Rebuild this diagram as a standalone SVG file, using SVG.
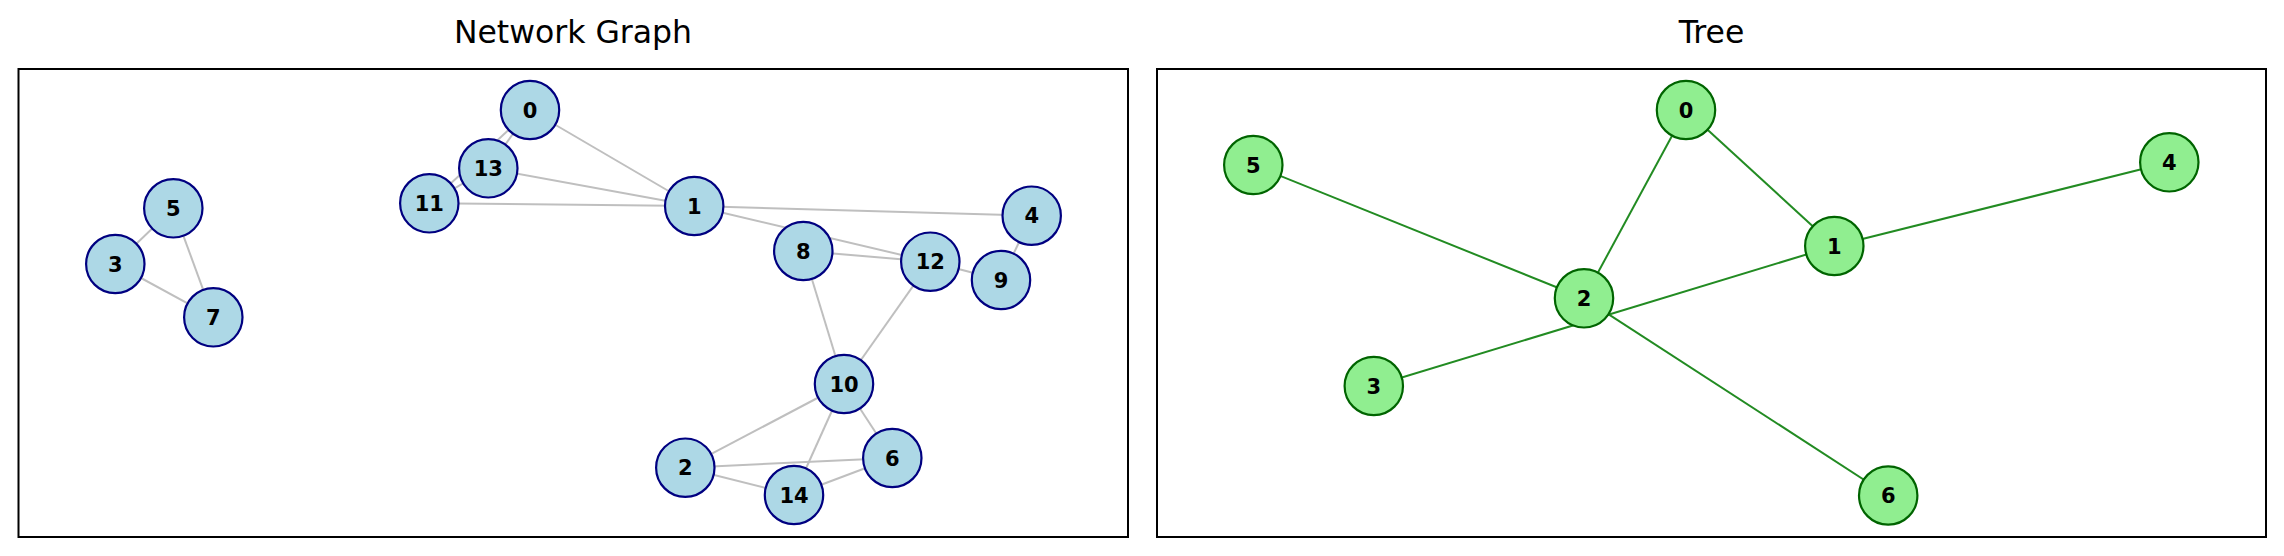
<svg xmlns="http://www.w3.org/2000/svg" width="2284" height="556" viewBox="0 0 2284 556">
<style>
.title{font-family:"DejaVu Sans",sans-serif;font-size:31.5px;fill:#000;text-anchor:middle}
.frame{fill:none;stroke:#000;stroke-width:2}
.ge{stroke:#bfbfbf;stroke-width:2;fill:none}
.te{stroke:#228b22;stroke-width:2;fill:none}
.bn circle{fill:#add8e6;stroke:#000080;stroke-width:2.2}
.gn circle{fill:#90ee90;stroke:#006400;stroke-width:2.2}
.lbl{font-family:"DejaVu Sans",sans-serif;font-weight:bold;font-size:21px;fill:#000;text-anchor:middle}
</style>
<rect width="2284" height="556" fill="#fff"/>
<text class="title" x="573" y="42.5">Network Graph</text>
<text class="title" x="1711.5" y="42.5">Tree</text>
<rect class="frame" x="18.5" y="69" width="1109.5" height="468"/>
<rect class="frame" x="1157" y="69" width="1109" height="468"/>
<g id="connectors">
<g id="graph-edges" class="ge">
<line x1="173.3" y1="208.3" x2="115.3" y2="264"/>
<line x1="173.3" y1="208.3" x2="213.3" y2="317.3"/>
<line x1="115.3" y1="264" x2="213.3" y2="317.3"/>
<line x1="530" y1="110" x2="488.3" y2="168.3"/>
<line x1="530" y1="110" x2="429.3" y2="203.3"/>
<line x1="488.3" y1="168.3" x2="429.3" y2="203.3"/>
<line x1="530" y1="110" x2="694.2" y2="206"/>
<line x1="488.3" y1="168.3" x2="694.2" y2="206"/>
<line x1="429.3" y1="203.3" x2="694.2" y2="206"/>
<line x1="694.2" y1="206" x2="1031.7" y2="215.7"/>
<line x1="694.2" y1="206" x2="930.3" y2="261.7"/>
<line x1="803.3" y1="251" x2="930.3" y2="261.7"/>
<line x1="930.3" y1="261.7" x2="1001" y2="280"/>
<line x1="1031.7" y1="215.7" x2="1001" y2="280"/>
<line x1="803.3" y1="251" x2="844" y2="384"/>
<line x1="930.3" y1="261.7" x2="844" y2="384"/>
<line x1="844" y1="384" x2="685.3" y2="467.7"/>
<line x1="844" y1="384" x2="794" y2="495"/>
<line x1="844" y1="384" x2="892.3" y2="458"/>
<line x1="685.3" y1="467.7" x2="892.3" y2="458"/>
<line x1="685.3" y1="467.7" x2="794" y2="495"/>
<line x1="794" y1="495" x2="892.3" y2="458"/>
</g>
<g id="tree-edges" class="te">
<line x1="1253.3" y1="165" x2="1584" y2="298.3"/>
<line x1="1686" y1="110" x2="1584" y2="298.3"/>
<line x1="1686" y1="110" x2="1834.3" y2="246"/>
<line x1="1834.3" y1="246" x2="2169.3" y2="162.3"/>
<line x1="1373.8" y1="386" x2="1834.3" y2="246"/>
<line x1="1584" y1="298.3" x2="1888.2" y2="495.5"/>
</g>
</g>
<g id="g-node-5" class="bn"><circle cx="173.3" cy="208.3" r="29.2"/><text class="lbl" x="173.3" y="215.9">5</text></g>
<g id="g-node-3" class="bn"><circle cx="115.3" cy="264" r="29.2"/><text class="lbl" x="115.3" y="271.6">3</text></g>
<g id="g-node-7" class="bn"><circle cx="213.3" cy="317.3" r="29.2"/><text class="lbl" x="213.3" y="324.9">7</text></g>
<g id="g-node-0" class="bn"><circle cx="530" cy="110" r="29.2"/><text class="lbl" x="530" y="117.6">0</text></g>
<g id="g-node-13" class="bn"><circle cx="488.3" cy="168.3" r="29.2"/><text class="lbl" x="488.3" y="175.9">13</text></g>
<g id="g-node-11" class="bn"><circle cx="429.3" cy="203.3" r="29.2"/><text class="lbl" x="429.3" y="210.9">11</text></g>
<g id="g-node-1" class="bn"><circle cx="694.2" cy="206" r="29.2"/><text class="lbl" x="694.2" y="213.6">1</text></g>
<g id="g-node-4" class="bn"><circle cx="1031.7" cy="215.7" r="29.2"/><text class="lbl" x="1031.7" y="223.3">4</text></g>
<g id="g-node-8" class="bn"><circle cx="803.3" cy="251" r="29.2"/><text class="lbl" x="803.3" y="258.6">8</text></g>
<g id="g-node-12" class="bn"><circle cx="930.3" cy="261.7" r="29.2"/><text class="lbl" x="930.3" y="269.3">12</text></g>
<g id="g-node-9" class="bn"><circle cx="1001" cy="280" r="29.2"/><text class="lbl" x="1001" y="287.6">9</text></g>
<g id="g-node-10" class="bn"><circle cx="844" cy="384" r="29.2"/><text class="lbl" x="844" y="391.6">10</text></g>
<g id="g-node-2" class="bn"><circle cx="685.3" cy="467.7" r="29.2"/><text class="lbl" x="685.3" y="475.3">2</text></g>
<g id="g-node-6" class="bn"><circle cx="892.3" cy="458" r="29.2"/><text class="lbl" x="892.3" y="465.6">6</text></g>
<g id="g-node-14" class="bn"><circle cx="794" cy="495" r="29.2"/><text class="lbl" x="794" y="502.6">14</text></g>
<g id="t-node-5" class="gn"><circle cx="1253.3" cy="165" r="29.2"/><text class="lbl" x="1253.3" y="172.6">5</text></g>
<g id="t-node-0" class="gn"><circle cx="1686" cy="110" r="29.2"/><text class="lbl" x="1686" y="117.6">0</text></g>
<g id="t-node-1" class="gn"><circle cx="1834.3" cy="246" r="29.2"/><text class="lbl" x="1834.3" y="253.6">1</text></g>
<g id="t-node-4" class="gn"><circle cx="2169.3" cy="162.3" r="29.2"/><text class="lbl" x="2169.3" y="169.9">4</text></g>
<g id="t-node-2" class="gn"><circle cx="1584" cy="298.3" r="29.2"/><text class="lbl" x="1584" y="305.9">2</text></g>
<g id="t-node-3" class="gn"><circle cx="1373.8" cy="386" r="29.2"/><text class="lbl" x="1373.8" y="393.6">3</text></g>
<g id="t-node-6" class="gn"><circle cx="1888.2" cy="495.5" r="29.2"/><text class="lbl" x="1888.2" y="503.1">6</text></g>
</svg>
